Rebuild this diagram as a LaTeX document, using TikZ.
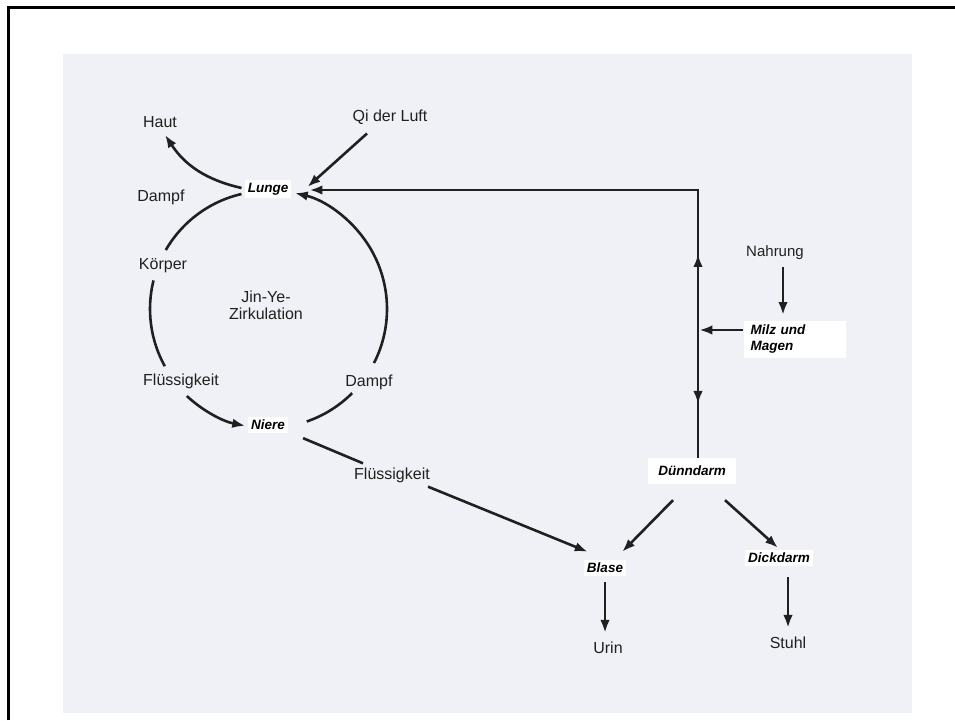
\documentclass[tikz,border=0pt]{standalone}
\usepackage{fontspec}
\setmainfont{Liberation Sans}
\usetikzlibrary{arrows.meta,decorations.markings,calc}
\definecolor{pagebg}{RGB}{240,241,246}
\definecolor{ink}{RGB}{32,32,32}
\begin{document}
\begin{tikzpicture}[x=1pt,y=1pt,
  lbl/.style={font=\fontsize{16}{17}\selectfont, text=ink, inner sep=2pt},
  org/.style={font=\fontsize{13.5}{16}\selectfont\bfseries\itshape, text=black, fill=white, inner sep=3pt},
  conn/.style={color=ink, line width=2.6pt},
  arr/.style={conn, -{Latex[length=13pt,width=9.5pt]}},
  midarr/.style={postaction={decorate}, decoration={markings, mark=at position #1 with {\arrow{Latex[length=13pt,width=9.5pt]}}}},
]
\useasboundingbox (0,0) rectangle (955,720);
\fill[white] (0,0) rectangle (955,720);
\fill[pagebg] (63,7) rectangle (912,666);
\draw[black, line width=3pt] (8,0) -- (8,712) -- (955,712);

% circle centre of the Jin-Ye circulation
\coordinate (cc) at (268,411);

% labels
\node[lbl] (haut) at (160,598) {Haut};
\node[lbl] (qi) at (390,603) {Qi der Luft};
\node[org] (lunge) at (268,531) {Lunge};
\node[lbl] (dampfL) at (161,523) {Dampf};
\node[lbl] (koerper) at (163,454) {Körper};
\node[lbl, align=center] (jinye) at (266,415) {Jin-Ye-\\Zirkulation};
\node[lbl] (flueL) at (181,339) {Flüssigkeit};
\node[lbl] (dampfR) at (369,338) {Dampf};
\node[org] (niere) at (268,295) {Niere};
\node[lbl] (flueM) at (392,245) {Flüssigkeit};
\node[lbl, font=\fontsize{15}{17}\selectfont] (nahrung) at (775,467) {Nahrung};
\node[org, align=left, text width=88pt, inner xsep=7pt, inner ysep=4pt] (milz) at (794.5,380.5) {Milz und\\Magen};
\node[org, inner xsep=10pt, inner ysep=8pt] (duenn) at (692,249) {Dünndarm};
\node[org] (blase) at (605,152) {Blase};
\node[org] (dick) at (779,162) {Dickdarm};
\node[lbl] (urin) at (608,72) {Urin};
\node[lbl] (stuhl) at (788,77) {Stuhl};

% Lunge -> Haut, Qi der Luft -> Lunge
\draw[arr] ([shift={(-3,1)}]lunge.west) to[bend left=22] ([shift={(5,-5)}]haut.south);
\draw[arr] ([shift={(-23,-7)}]qi.south) -- ([shift={(16,2)}]lunge.east);

% Jin-Ye circulation
\draw[conn] ($(cc)+(103:118)$) arc[start angle=103, end angle=150, radius=118];
\draw[conn] ($(cc)+(166:118)$) arc[start angle=166, end angle=209, radius=118];
\draw[arr]  ($(cc)+(227:119)$) arc[start angle=227, end angle=259, radius=119];
\draw[conn] ($(cc)+(289:119)$) arc[start angle=289, end angle=315, radius=119];
\draw[arr]  ($(cc)+(-27:119)$) arc[start angle=-27, end angle=77, radius=119];

% Niere -> Flüssigkeit -> Blase
\draw[conn] ([shift={(15,-5)}]niere.south east) -- ([shift={(11,2)}]flueM.north west);
\draw[arr] ([shift={(-4,-2)}]flueM.south east) -- ([shift={(4,8)}]blase.north west);

% Nahrung -> Milz und Magen
\coordinate (nahS) at ([shift={(8,-5)}]nahrung.south);
\draw[arr, shorten >=6pt] (nahS) -- (nahS |- milz.north);

% Milz und Magen -> up to Lunge and down to Dünndarm
\coordinate (junc) at (698,390);
\coordinate (corner) at (698,530);
\draw[arr, midarr=76pt] (junc) -- (corner) -- ([shift={(18,-1)}]lunge.east);
\draw[conn, midarr=74pt] (junc) -- (junc |- duenn.north);
\draw[arr] (milz.west |- junc) -- ([xshift=1.3pt]junc);

% Dünndarm -> Blase, Dickdarm
\draw[arr] ([shift={(-19,-16)}]duenn.south) -- ([shift={(-4,8)}]blase.north east);
\draw[arr] ([shift={(33,-16)}]duenn.south) -- ([shift={(-1,2)}]dick.north);

% Blase -> Urin, Dickdarm -> Stuhl
\draw[arr] ([yshift=-6pt]blase.south) -- ([shift={(-3,7)}]urin.north);
\draw[arr] ([shift={(9,-11)}]dick.south) -- ([shift={(0,7)}]stuhl.north);
\end{tikzpicture}
\end{document}
